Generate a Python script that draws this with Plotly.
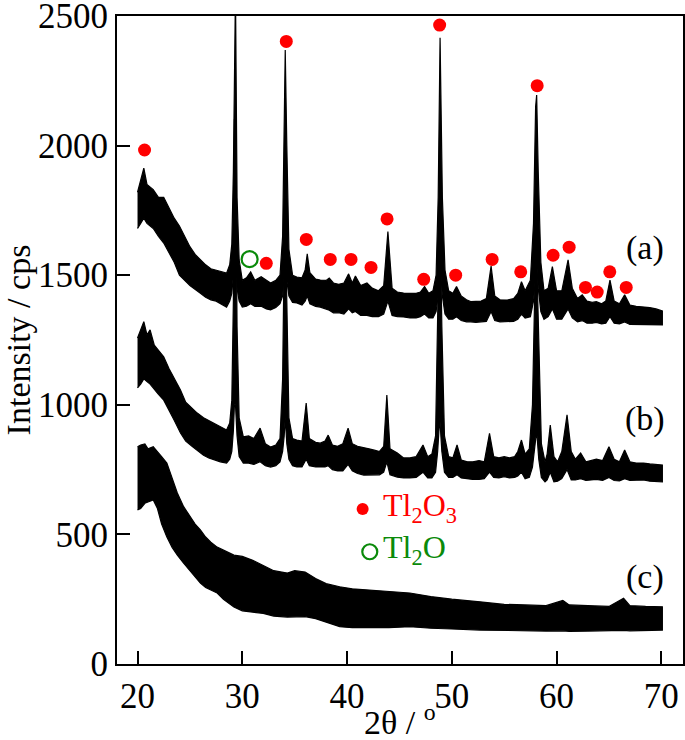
import plotly.graph_objects as go

# ---------------- data ----------------
# Pattern (a): 2theta, upper and lower edge of the (noisy) trace
tt_a = [20.0, 20.3, 20.6, 20.9, 21.5, 22.0, 22.5, 23.0, 23.5, 24.0, 24.5, 25.0, 25.5, 26.0,
        26.5, 27.0, 27.5, 28.0, 28.5, 28.8, 29.0, 29.15, 29.25, 29.35, 29.5, 29.7, 30.0,
        30.4, 30.8, 31.2, 31.8, 32.3, 32.7, 33.2, 33.6, 33.85, 34.0, 34.1, 34.25, 34.45,
        34.8, 35.2, 35.7, 36.0, 36.2, 36.45, 37.0, 37.45, 38.0, 38.3, 38.7, 39.2, 39.7,
        40.15, 40.5, 40.8, 41.3, 41.9, 42.4, 43.0, 43.5, 43.9, 44.3, 44.8, 45.4, 46.0,
        46.6, 47.0, 47.4, 47.8, 48.2, 48.5, 48.7, 48.88, 49.1, 49.35, 49.7, 50.1, 50.45,
        50.9, 51.4, 51.8, 52.3, 52.8, 53.3, 53.75, 54.1, 54.6, 55.3, 55.9, 56.3, 56.65,
        57.0, 57.5, 57.8, 58.0, 58.1, 58.25, 58.5, 58.8, 59.2, 59.6, 60.0, 60.5, 61.1,
        61.5, 62.0, 62.45, 62.9, 63.4, 63.8, 64.3, 64.7, 65.1, 65.5, 66.0, 66.5, 67.0,
        67.6, 68.3, 68.9, 69.5, 70.1]
upper_a = [1820, 1870, 1913, 1850, 1830, 1800, 1800, 1760, 1720, 1690, 1650, 1610, 1580, 1560,
           1540, 1525, 1520, 1515, 1508, 1540, 1620, 1900, 2600, 2600, 1800, 1560, 1480,
           1490, 1513, 1480, 1494, 1480, 1470, 1480, 1500, 1650, 2200, 2369, 2000, 1600,
           1500, 1493, 1490, 1520, 1582, 1510, 1485, 1481, 1480, 1489, 1470, 1465, 1470,
           1505, 1470, 1497, 1460, 1470, 1450, 1440, 1460, 1668, 1450, 1435, 1431, 1430,
           1430, 1435, 1456, 1430, 1440, 1500, 1800, 2416, 1800, 1520, 1440, 1430, 1456,
           1420, 1405, 1398, 1400, 1400, 1410, 1535, 1420, 1405, 1404, 1410, 1430, 1475,
           1440, 1480, 1700, 2150, 2195, 1900, 1550, 1440, 1450, 1533, 1440, 1440, 1559,
           1450, 1410, 1424, 1400, 1395, 1398, 1390, 1400, 1481, 1400, 1390, 1424, 1385,
           1380, 1378, 1375, 1370, 1362]
lower_a = [1680, 1700, 1720, 1700, 1680, 1650, 1624, 1590, 1550, 1500, 1480, 1460, 1445, 1430,
           1415, 1405, 1400, 1390, 1377, 1400, 1430, 1500, 1700, 1700, 1450, 1400, 1377,
           1380, 1390, 1380, 1380, 1370, 1366, 1375, 1390, 1420, 1500, 1600, 1480, 1420,
           1395, 1393, 1385, 1400, 1420, 1390, 1380, 1377, 1370, 1365, 1355, 1355, 1350,
           1370, 1355, 1360, 1345, 1345, 1340, 1340, 1350, 1400, 1345, 1340, 1339, 1335,
           1335, 1340, 1350, 1335, 1335, 1360, 1420, 1550, 1420, 1350, 1330, 1330, 1340,
           1325, 1320, 1320, 1318, 1320, 1322, 1360, 1325, 1320, 1320, 1322, 1330, 1350,
           1335, 1340, 1400, 1500, 1550, 1450, 1360, 1330, 1340, 1370, 1330, 1330, 1370,
           1335, 1320, 1325, 1315, 1315, 1318, 1312, 1315, 1340, 1315, 1312, 1320, 1310,
           1308, 1308, 1308, 1308, 1308]

# Pattern (b)
tt_b = [20.0, 20.3, 20.6, 20.9, 21.2, 21.6, 22.0, 22.5, 23.0, 23.5, 24.1, 24.6, 25.2, 25.7,
        26.3, 26.8, 27.3, 27.9, 28.5, 28.8, 29.0, 29.15, 29.25, 29.35, 29.5, 29.7, 30.1,
        30.6, 31.1, 31.7, 32.2, 32.7, 33.2, 33.6, 33.85, 34.0, 34.1, 34.25, 34.45, 34.8,
        35.2, 35.7, 36.1, 36.4, 37.0, 37.45, 37.9, 38.2, 38.6, 39.1, 39.6, 40.1, 40.5,
        41.0, 41.6, 42.1, 42.6, 43.1, 43.5, 43.8, 44.1, 44.8, 45.4, 46.0, 46.6, 47.25,
        47.7, 48.1, 48.45, 48.65, 48.85, 49.05, 49.3, 49.7, 50.1, 50.5, 50.9, 51.5, 52.0,
        52.6, 53.1, 53.6, 54.0, 54.5, 55.0, 55.5, 56.0, 56.3, 56.65, 57.0, 57.4, 57.7,
        57.95, 58.1, 58.3, 58.55, 58.9, 59.1, 59.4, 59.75, 60.1, 60.5, 61.0, 61.4, 61.8,
        62.3, 62.8, 63.3, 63.8, 64.4, 65.0, 65.5, 66.0, 66.5, 67.0, 67.6, 68.3, 68.9,
        69.5, 70.1]
upper_b = [1258, 1290, 1321, 1270, 1289, 1230, 1210, 1185, 1140, 1100, 1057, 1010, 985, 968,
           950, 940, 930, 915, 903, 930, 1018, 1400, 2100, 2100, 1300, 950, 876,
           880, 870, 910, 850, 837, 845, 870, 1100, 1600, 1760, 1400, 950, 870,
           864, 860, 1007, 870, 855, 852, 860, 883, 845, 840, 850, 910, 850,
           840, 833, 830, 825, 820, 840, 1038, 830, 814, 795, 795, 800, 845,
           800, 810, 880, 1300, 1806, 1300, 880, 800, 795, 845, 787, 780, 780,
           785, 780, 890, 800, 795, 800, 795, 800, 820, 864, 810, 830, 1000,
           1500, 1575, 1200, 850, 780, 810, 922, 800, 780, 820, 961, 820, 790,
           814, 780, 785, 790, 785, 838, 790, 780, 826, 780, 775, 775, 772,
           770, 768]
lower_b = [1065, 1080, 1100, 1090, 1080, 1060, 1040, 1018, 980, 940, 891, 860, 840, 826,
           805, 795, 787, 780, 775, 790, 820, 900, 1000, 1000, 880, 800, 775,
           775, 770, 780, 765, 760, 765, 780, 820, 880, 950, 850, 790, 765,
           760, 760, 790, 765, 760, 760, 760, 765, 750, 745, 745, 770, 745,
           735, 729, 730, 730, 730, 740, 780, 730, 721, 718, 718, 720, 740,
           718, 718, 740, 820, 950, 820, 740, 720, 720, 730, 718, 715, 712,
           712, 715, 740, 720, 718, 723, 718, 720, 725, 740, 715, 720, 760,
           850, 900, 790, 720, 703, 710, 740, 703, 705, 715, 750, 710, 710,
           715, 708, 710, 712, 708, 720, 708, 706, 715, 708, 708, 710, 705,
           705, 703]

# Pattern (c)
tt_c = [20.0, 20.3, 20.7, 21.0, 21.5, 21.9, 22.3, 22.8, 23.3, 23.8, 24.4, 25.0, 25.5, 26.0,
        26.5, 27.0, 27.6, 28.2, 29.2, 30.0, 31.0, 32.0, 33.0, 34.3, 35.0, 36.0, 37.0,
        38.0, 39.3, 40.5, 42.0, 44.0, 46.0, 48.0, 50.0, 52.7, 55.0, 57.0, 59.0, 60.6,
        61.2, 63.0, 65.0, 66.4, 67.0, 68.5, 70.1]
upper_c = [838, 845, 849, 830, 838, 820, 800, 775, 720, 660, 607, 570, 540, 517,
           490, 470, 451, 440, 420, 415, 400, 380, 360, 351, 360, 355, 330,
           310, 298, 290, 285, 280, 274, 260, 250, 240, 230, 228, 225, 245,
           228, 225, 222, 254, 225, 222, 221]
lower_c = [594, 600, 620, 625, 633, 600, 540, 490, 450, 420, 389, 360, 335, 312,
           295, 285, 274, 250, 220, 205, 200, 195, 185, 181, 183, 183, 175,
           160, 144, 140, 140, 140, 144, 138, 135, 131, 130, 128, 127, 128,
           126, 127, 128, 130, 128, 128, 131]

# Tl2O3 reflection markers (red dots) and Tl2O marker (green circle)
tl2o3_x = [20.67, 29.33, 32.29, 34.20, 36.11, 38.40, 40.38, 42.29, 43.82, 47.32, 48.84,
           50.37, 53.85, 56.58, 58.15, 59.67, 61.20, 62.76, 63.88, 65.08, 66.65]
tl2o3_y = [1983, 2527, 1546, 2402, 1638, 1561, 1561, 1530, 1717, 1484, 2465,
           1500, 1561, 1513, 2231, 1577, 1608, 1453, 1435, 1513, 1453]
tl2o_x = [30.70]
tl2o_y = [1562]

curve_labels = ["(a)", "(b)", "(c)"]
curve_label_y = [1605, 945, 336]

FONT = "Liberation Serif, Times New Roman, serif"
RED = "#ff0000"
GREEN = "#0a8a0a"

fig = go.Figure()

for tt, up, lo in [(tt_a, upper_a, lower_a), (tt_b, upper_b, lower_b), (tt_c, upper_c, lower_c)]:
    fig.add_trace(go.Scatter(
        x=tt + tt[::-1], y=up + lo[::-1], mode="lines", fill="toself",
        fillcolor="black", line=dict(color="black", width=1.2),
        hoverinfo="skip", showlegend=False))

fig.add_trace(go.Scatter(x=tl2o3_x, y=tl2o3_y, mode="markers", cliponaxis=False,
                         marker=dict(color=RED, size=13, line=dict(width=0)),
                         showlegend=False))
fig.add_trace(go.Scatter(x=tl2o_x, y=tl2o_y, mode="markers", cliponaxis=False,
                         marker=dict(color=GREEN, size=16, symbol="circle-open",
                                     line=dict(color=GREEN, width=2.2)),
                         showlegend=False))

# legend-like symbols inside the plot
fig.add_trace(go.Scatter(x=[41.49], y=[598], mode="markers", cliponaxis=False,
                         marker=dict(color=RED, size=12), showlegend=False))
fig.add_trace(go.Scatter(x=[42.17], y=[433], mode="markers", cliponaxis=False,
                         marker=dict(color=GREEN, size=15, symbol="circle-open",
                                     line=dict(color=GREEN, width=2.2)),
                         showlegend=False))

annotations = []
for lab, yv in zip(curve_labels, curve_label_y):
    annotations.append(dict(x=68.47, y=yv, xref="x", yref="y", text=lab, showarrow=False,
                            xanchor="center", yanchor="middle",
                            font=dict(family=FONT, size=34, color="black")))
annotations.append(dict(x=43.2, y=605, xref="x", yref="y", text="Tl<sub>2</sub>O<sub>3</sub>",
                        showarrow=False, xanchor="left", yanchor="middle",
                        font=dict(family=FONT, size=32, color=RED)))
annotations.append(dict(x=43.2, y=440, xref="x", yref="y", text="Tl<sub>2</sub>O",
                        showarrow=False, xanchor="left", yanchor="middle",
                        font=dict(family=FONT, size=32, color=GREEN)))
# x-axis title
annotations.append(dict(x=0.5, y=-0.086, xref="paper", yref="paper",
                        text="2θ / <sup>o</sup>", showarrow=False,
                        xanchor="center", yanchor="middle",
                        font=dict(family=FONT, size=34, color="black")))

fig.update_layout(
    width=685, height=740,
    margin=dict(l=117, r=2, t=16, b=76, autoexpand=False),
    paper_bgcolor="white", plot_bgcolor="white",
    font=dict(family=FONT, size=35, color="black"),
    annotations=annotations,
    showlegend=False,
)
fig.update_xaxes(range=[18.04, 72.07], tickvals=[20, 30, 40, 50, 60, 70],
                 ticks="inside", ticklen=13, tickwidth=2, tickcolor="black",
                 showline=True, linewidth=2, linecolor="black", mirror=True,
                 showgrid=False, zeroline=False, automargin=False,
                 ticklabeloverflow="allow",
                 tickfont=dict(family=FONT, size=35, color="black"))
fig.update_yaxes(range=[0, 2500], tickvals=[0, 500, 1000, 1500, 2000, 2500],
                 ticks="inside", ticklen=13, tickwidth=2, tickcolor="black",
                 showline=True, linewidth=2, linecolor="black", mirror=True,
                 showgrid=False, zeroline=False, automargin=False,
                 ticklabeloverflow="allow",
                 tickfont=dict(family=FONT, size=35, color="black"),
                 title=dict(text="Intensity / cps", font=dict(family=FONT, size=34),
                            standoff=6))

fig.write_html("out.html", config={"displayModeBar": False},
               post_script="document.body.style.margin='0px';")
